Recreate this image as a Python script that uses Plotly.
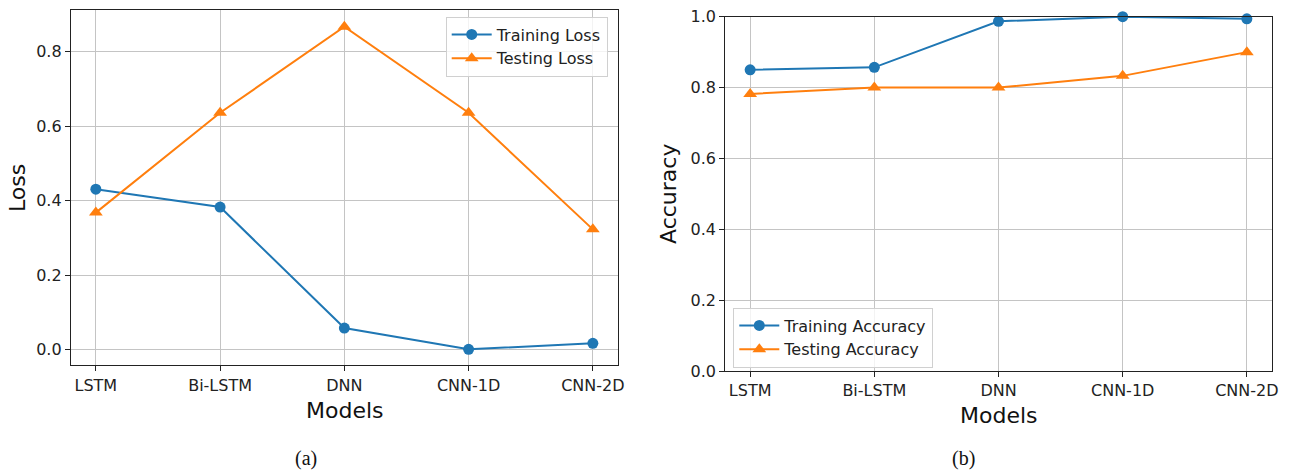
import plotly.graph_objects as go

models = ["LSTM", "Bi-LSTM", "DNN", "CNN-1D", "CNN-2D"]
train_loss = [0.431, 0.383, 0.058, 0.001, 0.017]
test_loss = [0.368, 0.636, 0.867, 0.636, 0.323]
train_acc = [0.850, 0.857, 0.987, 1.000, 0.994]
test_acc = [0.782, 0.800, 0.800, 0.833, 0.900]
loss_ticks = [0.0, 0.2, 0.4, 0.6, 0.8]
acc_ticks = [0.0, 0.2, 0.4, 0.6, 0.8, 1.0]

BLUE = "#1f77b4"
ORANGE = "#ff7f0e"
W, H = 1290, 471
FONT = "DejaVu Sans"

xi = list(range(len(models)))

fig = go.Figure()

def add(x, y, name, color, symbol, xa, ya, legend, size):
    fig.add_trace(go.Scatter(
        x=x, y=y, name=name, mode="lines+markers",
        line=dict(color=color, width=2),
        marker=dict(color=color, symbol=symbol, size=size, line=dict(width=0)),
        xaxis=xa, yaxis=ya, legend=legend, cliponaxis=False))

add(xi, train_loss, "Training Loss", BLUE, "circle", "x", "y", "legend", 11)
add(xi, test_loss, "Testing Loss", ORANGE, "triangle-up", "x", "y", "legend", 12)
add(xi, train_acc, "Training Accuracy", BLUE, "circle", "x2", "y2", "legend2", 11)
add(xi, test_acc, "Testing Accuracy", ORANGE, "triangle-up", "x2", "y2", "legend2", 12)

axis_common = dict(
    showline=True, linecolor="#222", linewidth=1.3, mirror=True,
    ticks="outside", ticklen=5, tickwidth=1, tickcolor="#222",
    showgrid=True, gridcolor="#c4c4c4", gridwidth=1, zeroline=False,
    automargin=False,
    tickfont=dict(family=FONT, size=16, color="#222"),
)

legend_common = dict(
    xanchor="left", yanchor="top",
    bgcolor="rgba(255,255,255,0.8)", bordercolor="#d0d0d0", borderwidth=1,
    font=dict(family=FONT, size=16, color="#222"), itemwidth=40,
    tracegroupgap=0,
)

fig.update_layout(
    width=W, height=H, margin=dict(l=0, r=0, t=0, b=0, autoexpand=False),
    paper_bgcolor="white", plot_bgcolor="white",
    xaxis=dict(domain=[71 / W, 617.7 / W], range=[-0.2, 4.2], tickvals=xi, ticktext=models,
               anchor="y", **axis_common),
    yaxis=dict(domain=[1 - 365.3 / H, 1 - 10 / H], range=[-0.042, 0.912], tickvals=loss_ticks,
               ticktext=[f"{v:.1f}" for v in loss_ticks], anchor="x", **axis_common),
    xaxis2=dict(domain=[725.3 / W, 1271.7 / W], range=[-0.2, 4.2], tickvals=xi, ticktext=models,
                anchor="y2", **axis_common),
    yaxis2=dict(domain=[1 - 371 / H, 1 - 16.7 / H], range=[0, 1], tickvals=acc_ticks,
                ticktext=[f"{v:.1f}" for v in acc_ticks], anchor="x2", **axis_common),
    legend=dict(x=445.7 / W, y=1 - 16.5 / H, **legend_common),
    legend2=dict(x=733.3 / W, y=1 - 307.5 / H, **legend_common),
    showlegend=True,
)

def ann(text, x, y, size, family=FONT, angle=0):
    fig.add_annotation(text=text, x=x / W, y=1 - y / H, xref="paper", yref="paper",
                       showarrow=False, textangle=angle, xanchor="center", yanchor="middle",
                       font=dict(family=family, size=size, color="#111"))

ann("Loss", 17, 188, 22, angle=-90)
ann("Models", 344.5, 410, 22)
ann("(a)", 306, 458, 20, family="Liberation Serif")
ann("Accuracy", 668, 194, 22, angle=-90)
ann("Models", 998.5, 415, 22)
ann("(b)", 963, 458, 20, family="Liberation Serif")

fig.write_html("out.html", config={"displayModeBar": False},
               post_script="document.body.style.margin='0px';")
